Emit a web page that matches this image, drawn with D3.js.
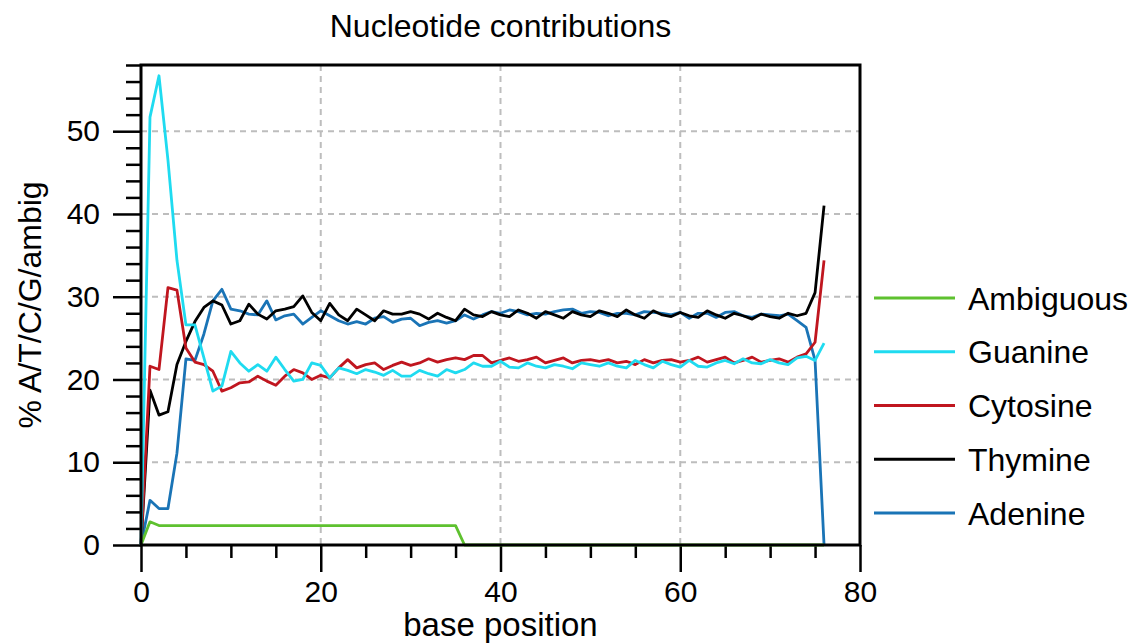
<!DOCTYPE html>
<html lang="en">
<head>
  <meta charset="UTF-8">
  <title>Nucleotide contributions</title>
  <script src="https://d3js.org/d3.v7.min.js"></script>
  <style>
    body {
      margin: 0;
      overflow: hidden;
      background: white;
    }
    text {
      font-family: "Liberation Sans", Arial, sans-serif;
    }
  </style>
</head>
<body>
  <script>
    const width = 1138;
    const height = 644;

    // base positions 0..76
    const positions = d3.range(0, 77);

    const ambiguous = [
      0, 2.8, 2.35, 2.35, 2.35, 2.35, 2.35, 2.35, 2.35, 2.35,
      2.35, 2.35, 2.35, 2.35, 2.35, 2.35, 2.35, 2.35, 2.35, 2.35,
      2.35, 2.35, 2.35, 2.35, 2.35, 2.35, 2.35, 2.35, 2.35, 2.35,
      2.35, 2.35, 2.35, 2.35, 2.35, 2.35, 0, 0, 0, 0,
      0, 0, 0, 0, 0, 0, 0, 0, 0, 0,
      0, 0, 0, 0, 0, 0, 0, 0, 0, 0,
      0, 0, 0, 0, 0, 0, 0, 0, 0, 0,
      0, 0, 0, 0, 0, 0, 0
    ];

    const guanine = [
      0, 51.7, 56.7, 46.5, 34.4, 26.6, 26.6, 22.6, 18.6, 19.2,
      23.4, 22.0, 21.0, 21.8, 21.0, 22.7, 21.2, 19.8, 20.0, 22.0,
      21.7, 20.2, 21.4, 21.1, 20.7, 21.2, 20.9, 20.5, 21.1, 20.4,
      20.4, 21.1, 20.7, 20.4, 21.2, 20.8, 21.2, 22.0, 21.6, 21.6,
      22.2, 21.5, 21.4, 22.0, 21.6, 21.4, 21.8, 21.6, 21.3, 22.0,
      21.8, 21.6, 22.0, 21.6, 21.4, 22.3, 21.8, 21.4, 22.2, 21.8,
      21.5, 22.3, 21.6, 21.5, 22.0, 22.3, 21.9, 22.5, 22.0, 21.9,
      22.4, 22.0, 21.8, 22.6, 22.8, 22.3, 24.4
    ];

    const cytosine = [
      0, 21.6, 21.2, 31.1, 30.8, 23.8, 22.1, 21.8, 21.0, 18.6,
      19.0, 19.6, 19.7, 20.4, 19.8, 19.3, 20.4, 21.2, 20.8, 20.0,
      20.5, 20.2, 21.4, 22.4, 21.4, 21.8, 22.0, 21.2, 21.7, 22.1,
      21.7, 22.0, 22.5, 22.1, 22.4, 22.6, 22.4, 22.9, 22.9, 22.0,
      22.3, 22.6, 22.2, 22.4, 22.7, 22.0, 22.3, 22.6, 22.0, 22.3,
      22.4, 22.2, 22.4, 22.0, 22.2, 21.8, 22.4, 22.0, 22.3, 22.4,
      22.1, 22.3, 22.7, 22.1, 22.4, 22.7, 22.0, 22.3, 22.7, 22.1,
      22.3, 22.5, 22.1, 22.7, 23.1, 24.5, 34.4
    ];

    const thymine = [
      0, 18.7, 15.7, 16.1, 21.8, 24.6, 27.0, 28.7, 29.5, 29.0,
      26.7, 27.1, 29.1, 27.9, 27.3, 28.3, 28.5, 28.8, 30.1, 28.1,
      27.1, 29.2, 27.8, 27.1, 28.5, 27.8, 27.1, 28.3, 27.9, 27.9,
      28.2, 27.9, 27.3, 28.0, 27.5, 27.1, 28.5, 27.8, 27.6, 28.2,
      27.8, 27.6, 28.4, 28.0, 27.4, 28.2, 27.8, 27.4, 28.2, 27.8,
      27.6, 28.3, 28.0, 27.6, 28.4, 27.8, 27.4, 28.3, 27.8, 27.6,
      28.1, 27.7, 27.5, 28.3, 27.8, 27.4, 28.0, 27.7, 27.3, 27.9,
      27.6, 27.4, 28.0, 27.7, 28.0, 30.5, 41.0
    ];

    const adenine = [
      0, 5.4, 4.4, 4.4, 11.1, 22.5, 22.3, 25.5, 29.5, 30.9,
      28.5, 28.3, 27.9, 27.8, 29.5, 27.2, 27.7, 27.9, 26.7, 27.5,
      28.3, 27.7, 27.1, 26.7, 27.0, 26.7, 27.4, 27.6, 26.9, 27.3,
      27.4, 26.5, 26.9, 27.1, 26.8, 27.1, 27.8, 27.3, 27.8, 28.2,
      28.0, 28.4, 28.2, 27.8, 28.0, 27.9, 28.2, 28.4, 28.5, 28.0,
      28.2, 28.1, 27.7, 28.0, 28.0, 27.8, 28.2, 28.1, 28.0, 27.8,
      28.1, 27.4, 28.0, 28.0, 27.5, 28.1, 28.2, 27.7, 27.5, 27.9,
      27.8, 27.7, 27.9, 27.1, 26.3, 22.3, 0
    ];

    const seriesNames = ["Ambiguous", "Guanine", "Cytosine", "Thymine", "Adenine"];
    const seriesValues = [ambiguous, guanine, cytosine, thymine, adenine];
    const seriesColors = ["#5ec12f", "#1fdbf0", "#c0161f", "#000000", "#1a74b6"];

    const xTicks = [0, 20, 40, 60, 80];
    const yTicks = [0, 10, 20, 30, 40, 50];

    const margin = { left: 141, right: 278, top: 65, bottom: 99 };
    const plotW = width - margin.left - margin.right;
    const plotH = height - margin.top - margin.bottom;

    const svg = d3.select("body")
      .append("svg")
      .attr("width", width)
      .attr("height", height);

    const x = d3.scaleLinear().domain([0, 80]).range([margin.left, margin.left + plotW]);
    const y = d3.scaleLinear().domain([0, 58]).range([margin.top + plotH, margin.top]);

    // grid
    const grid = svg.append("g")
      .attr("stroke", "#bdbdbd")
      .attr("stroke-width", 2)
      .attr("stroke-dasharray", "6,5");
    grid.selectAll(".gx")
      .data(xTicks.filter(d => d > 0 && d < 80))
      .enter().append("line")
      .attr("x1", d => x(d)).attr("x2", d => x(d))
      .attr("y1", y(58)).attr("y2", y(0));
    grid.selectAll(".gy")
      .data(yTicks.filter(d => d > 0))
      .enter().append("line")
      .attr("x1", x(0)).attr("x2", x(80))
      .attr("y1", d => y(d)).attr("y2", d => y(d));

    // minor ticks
    const yMinor = d3.range(0, 59, 2).filter(d => d % 10 !== 0);
    const xMinor = d3.range(0, 81, 5).filter(d => d % 20 !== 0);

    const yMinorAxis = svg.append("g")
      .attr("transform", `translate(${margin.left},0)`)
      .call(d3.axisLeft(y).tickValues(yMinor).tickSize(15).tickFormat(""));
    const xMinorAxis = svg.append("g")
      .attr("transform", `translate(0,${y(0)})`)
      .call(d3.axisBottom(x).tickValues(xMinor).tickSize(13).tickFormat(""));

    const yAxis = svg.append("g")
      .attr("transform", `translate(${margin.left},0)`)
      .call(d3.axisLeft(y).tickValues(yTicks).tickSize(28).tickPadding(13));
    const xAxis = svg.append("g")
      .attr("transform", `translate(0,${y(0)})`)
      .call(d3.axisBottom(x).tickValues(xTicks).tickSize(27).tickPadding(9));

    [yMinorAxis, xMinorAxis, yAxis, xAxis].forEach(g => {
      g.select(".domain").remove();
      g.selectAll(".tick line").attr("stroke", "#000").attr("stroke-width", 2.5);
      g.selectAll(".tick text")
        .attr("fill", "#000")
        .style("font-family", "'Liberation Sans', Arial, sans-serif")
        .style("font-size", "30px");
    });

    // series lines, drawn in reverse legend order
    const line = d3.line()
      .x((d, i) => x(positions[i]))
      .y(d => y(d));

    for (let k = seriesValues.length - 1; k >= 0; k--) {
      svg.append("path")
        .datum(seriesValues[k])
        .attr("fill", "none")
        .attr("stroke", seriesColors[k])
        .attr("stroke-width", 2.8)
        .attr("stroke-linejoin", "round")
        .attr("d", line);
    }

    // frame
    svg.append("rect")
      .attr("x", x(0))
      .attr("y", y(58))
      .attr("width", x(80) - x(0))
      .attr("height", y(0) - y(58))
      .attr("fill", "none")
      .attr("stroke", "#000")
      .attr("stroke-width", 3);

    // title and axis labels
    svg.append("text")
      .attr("x", (x(0) + x(80)) / 2)
      .attr("y", 37)
      .attr("text-anchor", "middle")
      .style("font-size", "32px")
      .text("Nucleotide contributions");

    svg.append("text")
      .attr("x", (x(0) + x(80)) / 2)
      .attr("y", 636)
      .attr("text-anchor", "middle")
      .style("font-size", "33px")
      .text("base position");

    svg.append("text")
      .attr("transform", `translate(41,${(y(0) + y(58)) / 2}) rotate(-90)`)
      .attr("text-anchor", "middle")
      .style("font-size", "32px")
      .text("% A/T/C/G/ambig");

    // legend
    const legend = svg.append("g");
    const legendY = d3.scaleLinear().domain([0, 4]).range([298, 513]);
    seriesNames.forEach((name, i) => {
      legend.append("line")
        .attr("x1", 874).attr("x2", 955)
        .attr("y1", legendY(i)).attr("y2", legendY(i))
        .attr("stroke", seriesColors[i])
        .attr("stroke-width", 3);
      legend.append("text")
        .attr("x", 968)
        .attr("y", legendY(i))
        .attr("dy", "0.36em")
        .style("font-size", "32px")
        .text(name);
    });
  </script>
</body>
</html>
